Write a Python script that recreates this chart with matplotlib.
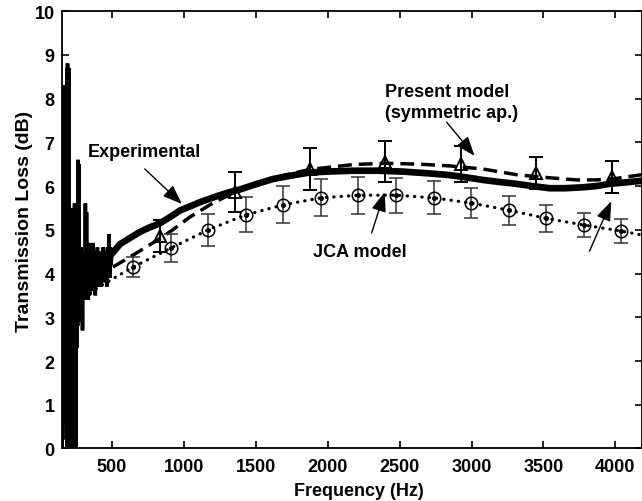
import matplotlib
matplotlib.use("Agg")
import matplotlib.pyplot as plt

plt.rcParams['font.family'] = ['Liberation Sans', 'DejaVu Sans']
plt.rcParams['font.weight'] = 'bold'

# ---------------- data ----------------
# Experimental (low-frequency, strongly oscillating part)
exp_lf_freq = [150,152,154,156,158,160,162,164,166,168,170,172,174,176,178,180,182,184,186,188,
               190,192,194,196,198,200,202,205,208,211,214,217,220,223,226,229,232,235,238,241,
               244,247,250,253,256,259,262,265,268,271,274,277,280,284,288,292,296,300,304,308,
               312,316,320,324,328,332,336,340,345,350,355,360,365,370,375,380,385,390,395,400,
               405,410,415,420,425,430,435,440,445,450,455,460,465,470,475,480,485,490,495]
exp_lf_tl = [0.0,8.2,0.0,8.3,0.2,8.1,1.0,8.3,0.6,7.0,0.6,5.5,0.7,6.0,0.6,4.5,0.8,5.0,0.6,8.7,
             0.0,8.8,0.0,8.6,0.3,8.7,0.0,4.7,0.5,4.6,0.6,3.9,0.5,4.7,0.0,5.5,0.0,4.2,0.0,5.6,
             0.2,4.4,0.0,3.9,2.3,5.6,2.8,6.6,3.3,6.5,3.6,4.4,2.9,4.6,3.3,4.3,2.7,4.5,3.6,4.4,
             3.4,5.6,3.5,5.4,3.6,4.6,3.4,4.7,3.5,4.6,3.7,4.5,3.6,4.7,3.8,4.5,3.5,4.4,3.8,4.6,
             3.7,4.3,3.9,4.5,3.7,4.4,4.0,4.6,3.8,4.4,3.9,4.5,3.7,4.6,4.0,4.9,3.9,4.6,4.2]
# Experimental (smooth part)
exp_hf_freq = [500,556,620,695,760,834,900,973,1040,1112,1180,1250,1320,1389,1500,1619,1750,1876,
               2000,2174,2350,2522,2700,2848,3000,3077,3200,3311,3420,3542,3650,3771,3870,3959,4060,4185]
exp_hf_tl = [4.45,4.67,4.80,4.95,5.05,5.15,5.28,5.44,5.53,5.63,5.71,5.79,5.86,5.92,6.04,6.16,6.24,6.31,
             6.33,6.35,6.35,6.33,6.29,6.25,6.18,6.14,6.09,6.05,6.00,5.95,5.95,5.97,6.00,6.05,6.08,6.12]

# Present model (symmetric ap.) - dashed curve
pm_freq = [508,647,834,915,1042,1202,1355,1500,1700,1880,2175,2401,2640,2848,3077,3311,3500,3728,3867,4000,4185]
pm_tl = [4.15,4.42,4.80,4.98,5.29,5.61,5.86,6.05,6.25,6.38,6.49,6.52,6.50,6.46,6.39,6.26,6.20,6.14,6.14,6.17,6.26]
# Present model markers (triangles) with error bars
pm_mk_freq = [834,1355,1880,2401,2924,3450,3975]
pm_mk_tl = [4.86,5.86,6.39,6.56,6.50,6.30,6.21]
pm_mk_err = [0.37,0.46,0.48,0.46,0.41,0.37,0.37]

# JCA model - dotted curve
jca_freq = [350,387,648,909,1170,1431,1692,1953,2214,2475,2736,2997,3258,3519,3780,4041,4185]
jca_tl = [3.55,3.65,4.15,4.58,5.00,5.34,5.57,5.73,5.79,5.79,5.73,5.61,5.45,5.26,5.11,4.97,4.88]
# JCA markers (circles) with error bars
jca_mk_freq = [648,909,1170,1431,1692,1953,2214,2475,2736,2997,3258,3519,3780,4041]
jca_mk_tl = [4.15,4.58,5.00,5.34,5.57,5.73,5.79,5.79,5.73,5.61,5.45,5.26,5.11,4.97]
jca_mk_err = [0.23,0.32,0.37,0.40,0.42,0.42,0.42,0.40,0.38,0.35,0.33,0.30,0.28,0.27]

x_ticks = [500,1000,1500,2000,2500,3000,3500,4000]
y_ticks = [0,1,2,3,4,5,6,7,8,9,10]

# ---------------- figure ----------------
fig = plt.figure(figsize=(6.42, 5.02), dpi=100)
ax = fig.add_axes([0.0958, 0.1046, 0.9042, 0.8714])

# JCA dotted line + circles
ax.plot(jca_freq, jca_tl, color='black', linestyle=(0, (0.1, 2.2)), linewidth=2.3,
        dash_capstyle='round', zorder=2)
ax.errorbar(jca_mk_freq, jca_mk_tl, yerr=jca_mk_err, fmt='none', ecolor='#333333',
            elinewidth=1.1, capsize=4.7, capthick=1.1, zorder=3)
ax.plot(jca_mk_freq, jca_mk_tl, linestyle='none', marker='o', markersize=9,
        markerfacecolor='none', markeredgecolor='black', markeredgewidth=1.1, zorder=4)
ax.plot(jca_mk_freq, jca_mk_tl, linestyle='none', marker='o', markersize=2.6,
        markerfacecolor='black', markeredgecolor='black', zorder=4)

# Present model dashed line + triangles
ax.plot(pm_freq, pm_tl, color='black', linestyle=(0, (4.0, 2.0)), linewidth=2.5, zorder=2)
ax.errorbar(pm_mk_freq, pm_mk_tl, yerr=pm_mk_err, fmt='none', ecolor='black',
            elinewidth=1.4, capsize=4.7, capthick=1.4, zorder=3)
ax.plot(pm_mk_freq, pm_mk_tl, linestyle='none', marker='^', markersize=9,
        markerfacecolor='none', markeredgecolor='black', markeredgewidth=1.4, zorder=4)

# Experimental
ax.plot(exp_lf_freq + exp_hf_freq, exp_lf_tl + exp_hf_tl, color='black',
        linewidth=2.6, zorder=5, solid_joinstyle='miter')
ax.plot(exp_hf_freq, exp_hf_tl, color='black', linewidth=4.8, zorder=5)

# annotations
fs = 13
arrow = dict(arrowstyle='-|>,head_length=0.85,head_width=0.32', color='black',
             lw=1.0, shrinkA=0, shrinkB=0, mutation_scale=14)
ax.text(723, 6.78, 'Experimental', ha='center', va='center', fontsize=fs, fontweight='bold')
ax.annotate('', xy=(987, 5.59), xytext=(729, 6.39), arrowprops=arrow, zorder=6)
ax.text(2396, 8.15, 'Present model', ha='left', va='center', fontsize=fs, fontweight='bold')
ax.text(2396, 7.69, '(symmetric ap.)', ha='left', va='center', fontsize=fs, fontweight='bold')
ax.annotate('', xy=(3021, 6.69), xytext=(2827, 7.46), arrowprops=arrow, zorder=6)
ax.text(2222, 4.51, 'JCA model', ha='center', va='center', fontsize=fs, fontweight='bold')
ax.annotate('', xy=(2396, 5.86), xytext=(2306, 4.93), arrowprops=arrow, zorder=6)
ax.annotate('', xy=(3971, 5.65), xytext=(3820, 4.51), arrowprops=arrow, zorder=6)

ax.set_xlim(150, 4185)
ax.set_ylim(0, 10)
ax.set_xticks(x_ticks)
ax.set_yticks(y_ticks)
ax.tick_params(direction='in', top=True, right=True, length=5, width=1.2, labelsize=fs)
ax.tick_params(axis='x', pad=7)
ax.tick_params(axis='y', pad=5)
for lab in ax.get_xticklabels() + ax.get_yticklabels():
    lab.set_fontweight('bold')
for s in ax.spines.values():
    s.set_linewidth(1.3)
ax.set_xlabel('Frequency (Hz)', fontsize=13, fontweight='bold')
ax.set_ylabel('Transmission Loss (dB)', fontsize=14, fontweight='bold')
ax.xaxis.set_label_coords(0.512, -0.0766)
ax.yaxis.set_label_coords(-0.049, 0.522)

fig.savefig('out.png', dpi=100)
